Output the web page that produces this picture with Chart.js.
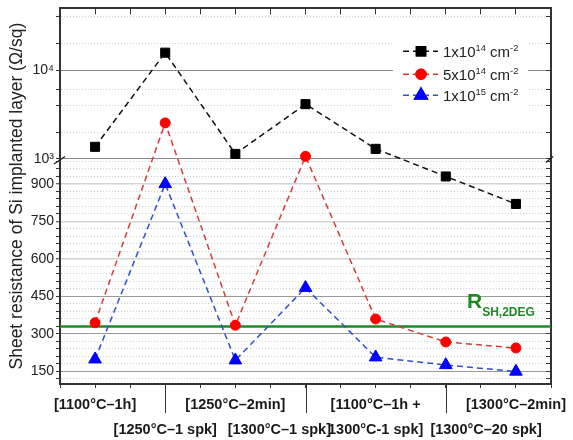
<!DOCTYPE html>
<html>
<head>
<meta charset="utf-8">
<script src="https://cdn.jsdelivr.net/npm/chart.js@4.4.1/dist/chart.umd.min.js"></script>
<style>html,body{margin:0;padding:0;background:#fff}</style>
</head>
<body>
<canvas id="c" width="573" height="440"></canvas>
<script>
// ---------------- data ----------------
const categories = [
  ["[1100°C–1h]"],
  ["[1250°C–1 spk]"],
  ["[1250°C–2min]"],
  ["[1300°C–1 spk]"],
  ["[1100°C–1h +", "1300°C-1 spk]"],
  ["[1300°C–20 spk]"],
  ["[1300°C–2min]"]
];
const series1e14 = [1370, 15800, 1140, 4150, 1300, 930, 820];
const series5e14 = [345, 2550, 335, 1070, 360, 268, 244];
const series1e15 = [199, 900, 195, 485, 207, 176, 150];
const seriesLabels = ["1x10^14 cm^-2", "5x10^14 cm^-2", "1x10^15 cm^-2"];
const rsh2degValue = 330;
const rsh2degLabel = "R";
const rsh2degSub = "SH,2DEG";
const yTitle = "Sheet resistance of Si implanted layer (Ω/sq)";

const xTickValues = [-0.5, 0, 0.5, 1, 1.5, 2, 2.5, 3, 3.5, 4, 4.5, 5, 5.5, 6, 6.5];
const yMajorLinear = [150, 300, 450, 600, 750, 900];
const yMajorLog = [1000, 10000];
const yMajorLogLabels = ["10³", "10⁴"];
const yMinorLinear = [120, 180, 210, 240, 270, 330, 360, 390, 420, 480, 510, 540, 570,
  630, 660, 690, 720, 780, 810, 840, 870, 930, 960, 990];
const yMinorLog = [2000, 4000, 6000, 20000, 40000];

// ---------------- axis with break: linear 100-1000, log 1000-50000 ----------------
const Y_MIN = 100, Y_BREAK = 1000, Y_MAX = 50000, BREAK_FRAC = 0.599;
const allYTicks = [...yMinorLinear, ...yMajorLinear, ...yMajorLog, ...yMinorLog].sort((a, b) => a - b);

class BrokenScale extends Chart.LinearScale {
  static id = 'broken';
  static defaults = {};
  decimalOf(v) {
    if (v <= Y_BREAK) return (v - Y_MIN) / (Y_BREAK - Y_MIN) * BREAK_FRAC;
    return BREAK_FRAC + (Math.log10(v) - Math.log10(Y_BREAK)) / Math.log10(Y_MAX / Y_BREAK) * (1 - BREAK_FRAC);
  }
  getPixelForValue(v) { return this.getPixelForDecimal(this.decimalOf(v)); }
  getValueForPixel(p) {
    const d = this.getDecimalForPixel(p);
    if (d <= BREAK_FRAC) return Y_MIN + d / BREAK_FRAC * (Y_BREAK - Y_MIN);
    return Y_BREAK * Math.pow(Y_MAX / Y_BREAK, (d - BREAK_FRAC) / (1 - BREAK_FRAC));
  }
  buildTicks() { return allYTicks.map(v => ({ value: v })); }
}
Chart.register(BrokenScale);

const FONT = '"Liberation Sans", Arial, sans-serif';
Chart.defaults.font.family = FONT;
Chart.defaults.color = '#222';

const isMinor = v => yMinorLinear.includes(v) || yMinorLog.includes(v);
function gridColor(v) {
  if ([150, 300, 450].includes(v)) return '#9a9a9a';
  if ([600, 750, 900].includes(v)) return '#d4d4d4';
  if (yMajorLog.includes(v)) return '#8a8a8a';
  return '#cfcfcf';
}
function gridWidth(v) {
  if ([600, 750, 900].includes(v)) return 1.5;
  return 1;
}

// label layout: odd categories on the second row, horizontal nudges for crowded labels
const labelNudge = { 3: -13, 5: 20 };
function xLabel(i) {
  const lines = categories[i];
  if (lines.length > 1) return lines;
  let t = lines[0];
  const n = labelNudge[i] || 0;
  if (n < 0) t = t + ' '.repeat(-n);
  if (n > 0) t = ' '.repeat(n) + t;
  return i % 2 === 1 ? ['', t] : [t, ''];
}

function fixBox(w, h) {
  return function (scale) {
    if (w !== null) scale.width = w;
    if (h !== null) scale.height = h;
    scale.paddingTop = 0; scale.paddingBottom = 0;
    scale.paddingLeft = 0; scale.paddingRight = 0;
  };
}

const toPoints = arr => arr.map((v, i) => ({ x: i, y: v }));

// ---------------- plugins ----------------
function drawRich(ctx, text, x, y, size, weight) {
  const parts = text.split(/\^(\S+)/);
  let cx = x;
  ctx.textBaseline = 'alphabetic';
  ctx.textAlign = 'left';
  parts.forEach((p, k) => {
    if (!p) return;
    const sup = k % 2 === 1;
    const s = sup ? size * 0.62 : size;
    ctx.font = `${weight || ''} ${s}px ${FONT}`;
    ctx.fillText(p, cx, sup ? y - size * 0.42 : y);
    cx += ctx.measureText(p).width;
  });
}

const decorPlugin = {
  id: 'decor',
  afterDatasetsDraw(chart) {
    const ctx = chart.ctx, a = chart.chartArea, ys = chart.scales.y;
    ctx.save();
    // legend
    ctx.fillStyle = '#ffffff';
    ctx.fillRect(a.right - 158, a.top + 28, 135, 76);
    const rows = [43, 66, 87];
    chart.data.datasets.slice(0, 3).forEach((ds, i) => {
      const y = a.top + rows[i];
      ctx.strokeStyle = ds.borderColor;
      ctx.lineWidth = ds.borderWidth;
      ctx.setLineDash(ds.borderDash);
      ctx.beginPath();
      ctx.moveTo(a.right - 148, y);
      ctx.lineTo(a.right - 113, y);
      ctx.stroke();
      ctx.setLineDash([]);
      Chart.helpers.drawPoint(ctx, {
        pointStyle: ds.pointStyle, radius: ds.pointRadius, borderWidth: 1, rotation: 0
      }, a.right - 130, y);
      ctx.fillStyle = ds.pointBackgroundColor;
      ctx.strokeStyle = ds.pointBorderColor;
      ctx.fill(); ctx.stroke();
      ctx.fillStyle = '#222';
      drawRich(ctx, ds.label, a.right - 108, y + 5.5, 15);
    });
    // R_SH,2DEG label
    const gy = ys.getPixelForValue(rsh2degValue);
    ctx.fillStyle = '#1f8a24';
    ctx.textAlign = 'left';
    ctx.textBaseline = 'alphabetic';
    ctx.font = `bold 21px ${FONT}`;
    const rx = a.right - 84;
    ctx.fillText(rsh2degLabel, rx, gy - 18);
    const rw = ctx.measureText(rsh2degLabel).width;
    ctx.font = `bold 12px ${FONT}`;
    ctx.fillText(rsh2degSub, rx + rw, gy - 10);
    ctx.restore();
  },
  afterDraw(chart) {
    const ctx = chart.ctx, a = chart.chartArea, ys = chart.scales.y, xs = chart.scales.x;
    ctx.save();
    // axis break marks
    const by = ys.getPixelForValue(Y_BREAK);
    ctx.strokeStyle = '#222';
    ctx.lineWidth = 1.4;
    ctx.beginPath();
    ctx.moveTo(a.left - 6, by + 5); ctx.lineTo(a.left + 5, by - 2.5);
    ctx.moveTo(a.right - 5, by + 3.5); ctx.lineTo(a.right + 2, by - 2.5);
    ctx.stroke();
    // long ticks for the second-row labels
    ctx.lineWidth = 1;
    ctx.strokeStyle = '#333';
    ctx.beginPath();
    [1, 3, 5].forEach(i => {
      const px = Math.round(xs.getPixelForValue(i)) + 0.5;
      ctx.moveTo(px, a.bottom); ctx.lineTo(px, a.bottom + 29);
    });
    ctx.stroke();
    ctx.restore();
  }
};

// ---------------- chart ----------------
const dashed = [6, 4];
new Chart(document.getElementById('c'), {
  type: 'line',
  data: {
    datasets: [
      { label: seriesLabels[0], data: toPoints(series1e14), borderColor: '#111', borderWidth: 1.5, borderDash: dashed,
        pointStyle: 'rect', pointRadius: 6.4, pointBackgroundColor: '#000', pointBorderColor: '#000', pointBorderWidth: 1 },
      { label: seriesLabels[1], data: toPoints(series5e14), borderColor: '#d93a3a', borderWidth: 1.5, borderDash: dashed,
        pointStyle: 'circle', pointRadius: 5, pointBackgroundColor: '#ff0000', pointBorderColor: '#ff0000', pointBorderWidth: 1 },
      { label: seriesLabels[2], data: toPoints(series1e15), borderColor: '#2f4fd0', borderWidth: 1.5, borderDash: dashed,
        pointStyle: 'triangle', pointRadius: 7.3, pointBackgroundColor: '#0000ff', pointBorderColor: '#0000ff', pointBorderWidth: 1 },
      { label: 'RSH2DEG', data: [{ x: -0.5, y: rsh2degValue }, { x: 6.5, y: rsh2degValue }], borderColor: '#1f8a24',
        borderWidth: 2.6, pointRadius: 0, order: 5 }
    ]
  },
  options: {
    responsive: false,
    animation: false,
    devicePixelRatio: 1,
    layout: { padding: 0 },
    plugins: { legend: { display: false }, tooltip: { enabled: false } },
    scales: {
      x: {
        type: 'linear', position: 'bottom', min: -0.5, max: 6.5,
        afterBuildTicks: s => { s.ticks = xTickValues.map(v => ({ value: v })); },
        afterFit: fixBox(null, 56),
        grid: { drawOnChartArea: false, tickLength: 4, tickColor: '#333', tickWidth: 1 },
        border: { color: '#333', width: 2 },
        ticks: {
          autoSkip: false, maxRotation: 0, minRotation: 0, padding: 4, color: '#1a1a1a',
          font: { size: 14.5, weight: 'bold', lineHeight: 25 / 14.5 },
          callback: v => Number.isInteger(v) ? xLabel(v) : ''
        }
      },
      x2: {
        type: 'linear', position: 'top', min: -0.5, max: 6.5,
        afterBuildTicks: s => { s.ticks = xTickValues.map(v => ({ value: v })); },
        afterFit: fixBox(null, 6),
        grid: { drawOnChartArea: false, tickLength: -6, tickColor: '#333', tickWidth: 1 },
        border: { color: '#333', width: 2 },
        ticks: { display: false }
      },
      y: {
        type: 'broken', position: 'left', min: Y_MIN, max: Y_MAX,
        afterFit: fixBox(60, null),
        grid: {
          color: c => gridColor(c.tick && c.tick.value),
          lineWidth: c => gridWidth(c.tick && c.tick.value),
          tickColor: '#333', tickLength: 4, tickWidth: 1
        },
        border: { color: '#333', width: 2, dash: c => (c.tick && isMinor(c.tick.value)) ? [1, 2] : [] },
        ticks: {
          autoSkip: false, padding: 2, color: '#222', font: { size: 14 },
          callback: v => {
            const i = yMajorLinear.indexOf(v);
            if (i >= 0) return String(v);
            const j = yMajorLog.indexOf(v);
            if (j >= 0) return yMajorLogLabels[j];
            return '';
          }
        },
        title: { display: true, text: yTitle, color: '#222', font: { size: 17.5 }, padding: { top: 7, bottom: 0 } }
      },
      y2: {
        type: 'broken', position: 'right', min: Y_MIN, max: Y_MAX,
        afterFit: fixBox(22, null),
        grid: { drawOnChartArea: false, tickLength: -5, tickColor: '#333', tickWidth: 1 },
        border: { color: '#333', width: 2 },
        ticks: { display: false }
      }
    }
  },
  plugins: [decorPlugin]
});
</script>
</body>
</html>
